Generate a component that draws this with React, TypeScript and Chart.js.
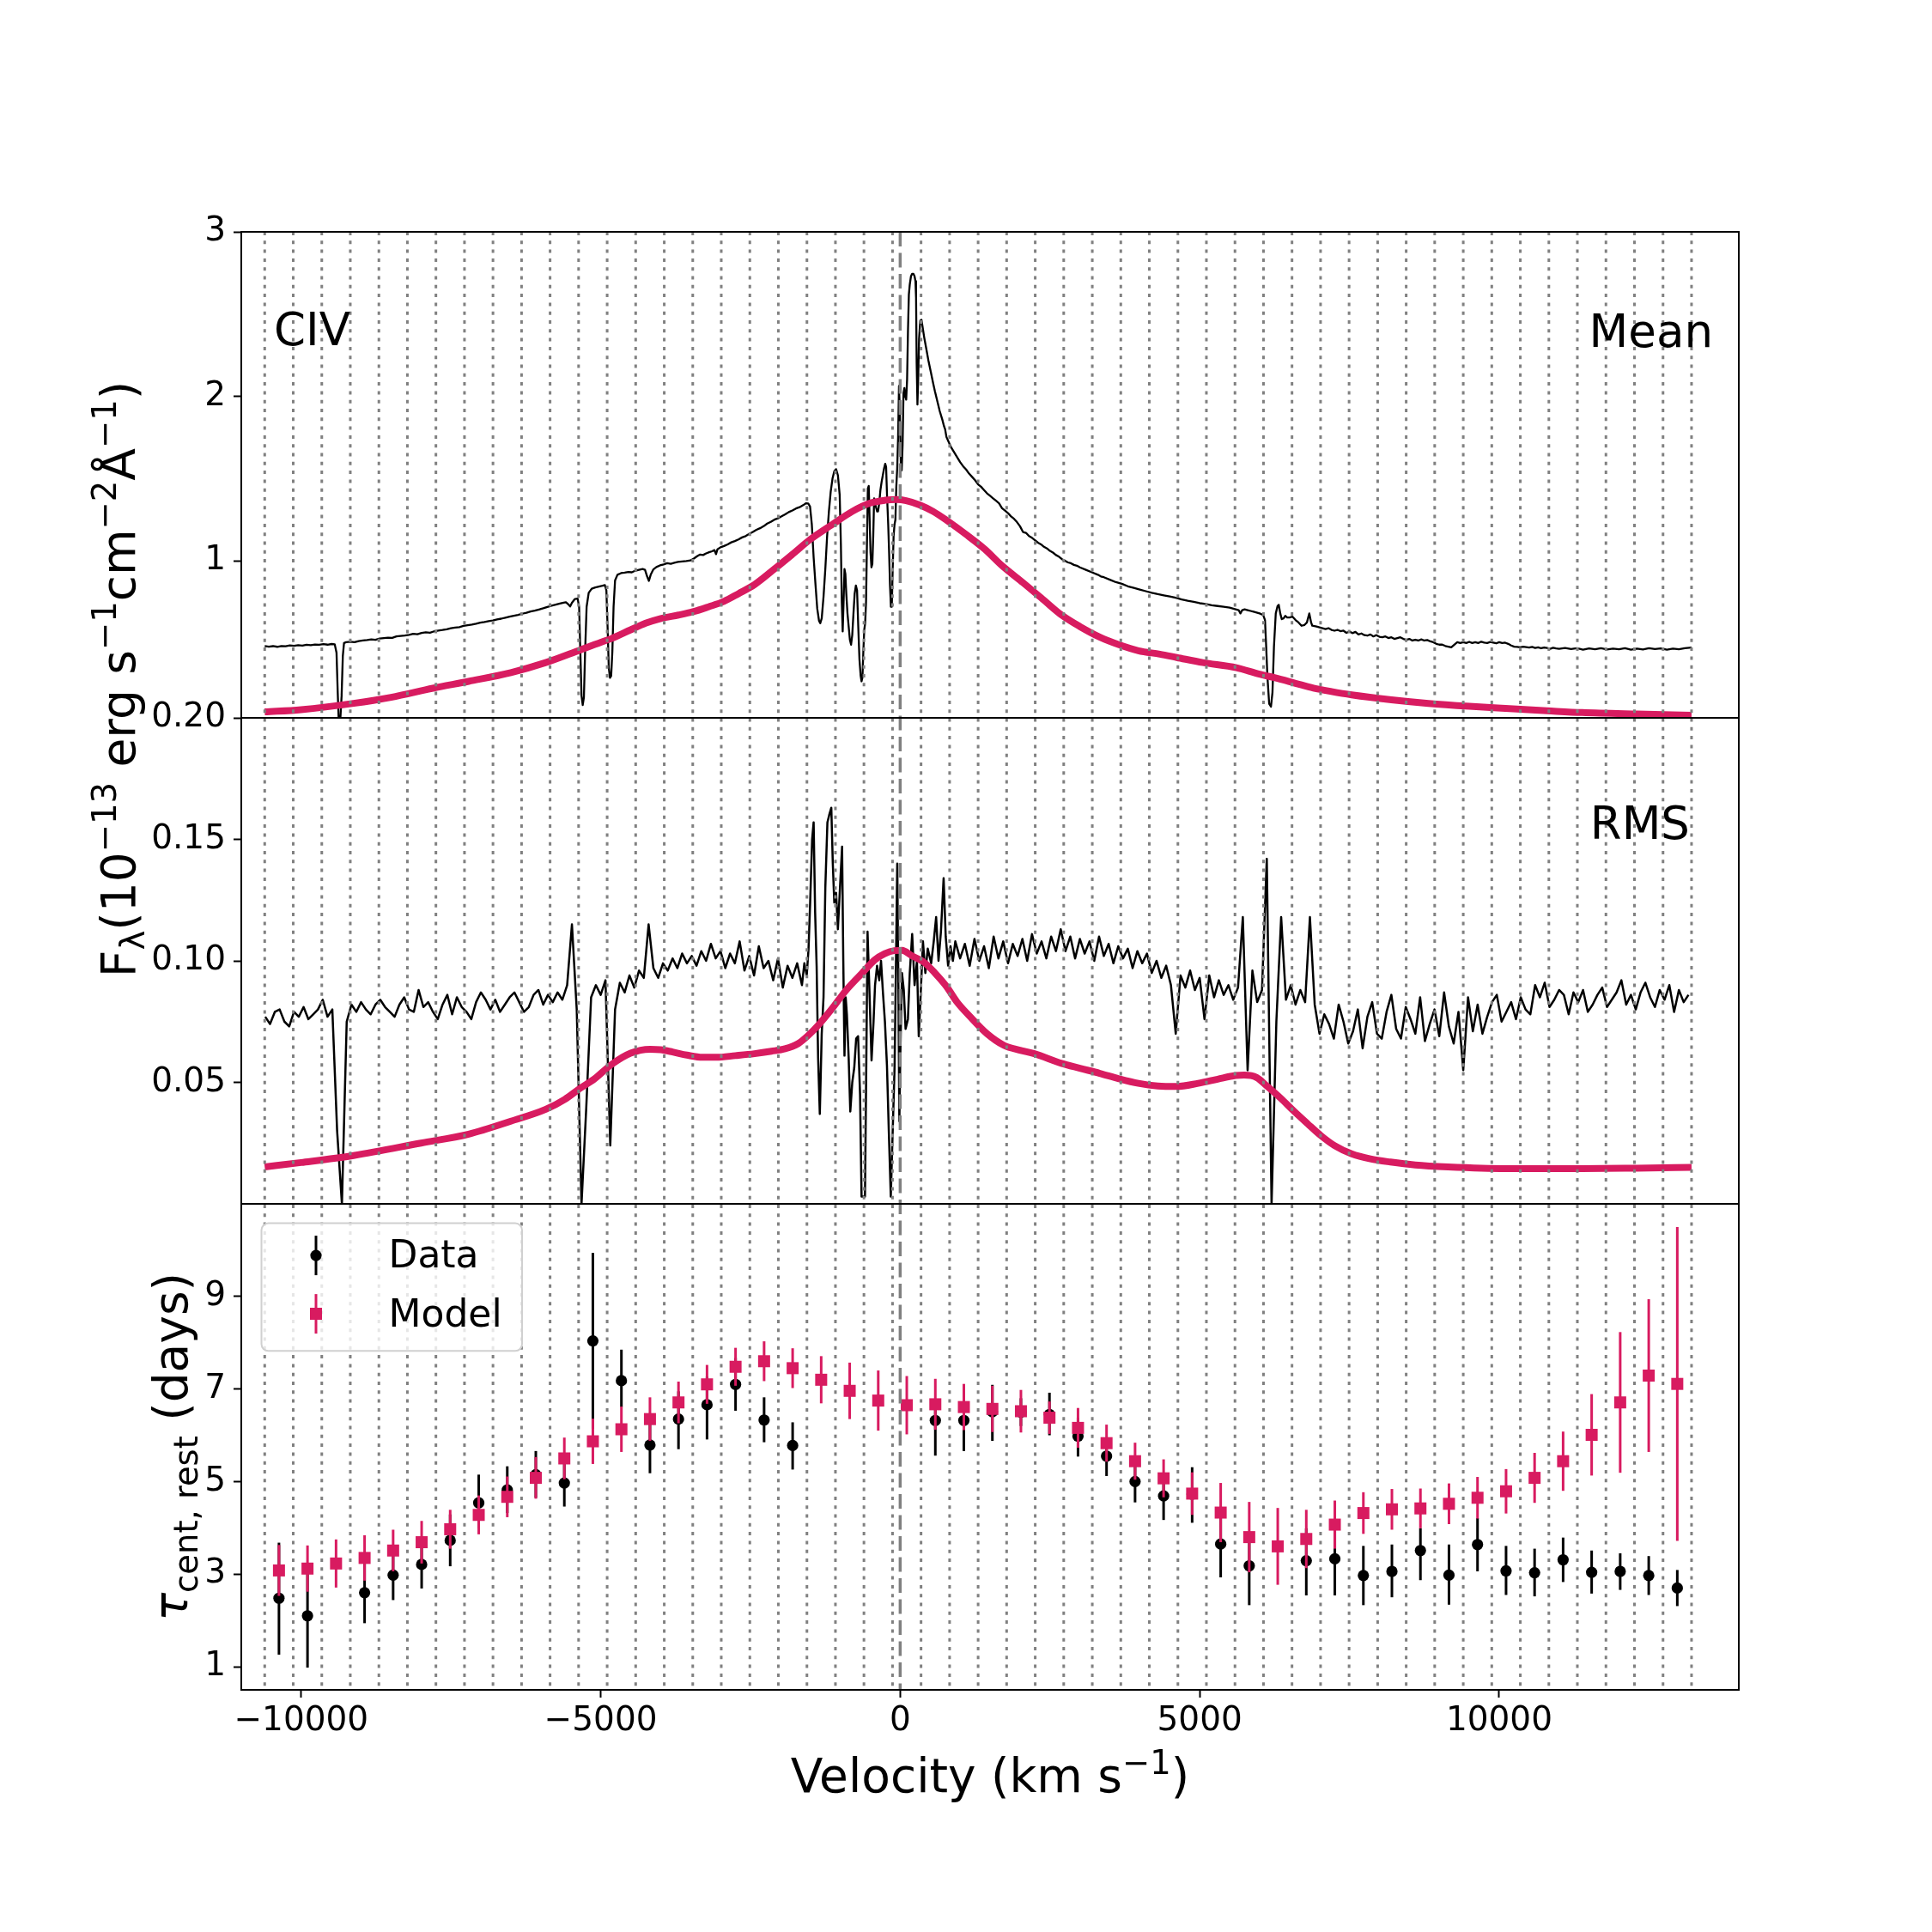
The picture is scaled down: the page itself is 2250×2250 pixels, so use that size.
import React, { useEffect, useRef } from "react";
import { Chart, registerables } from "chart.js";

Chart.register(...registerables);

const FONT = "'DejaVu Sans', 'Liberation Sans', sans-serif";
const PINK = "#D81B60";
const GRAY = "#808080";

// ---------- axis ticks ----------
const xTickValues = [-10000, -5000, 0, 5000, 10000];
const meanTickValues = [1, 2, 3];
const rmsTickValues = [0.05, 0.1, 0.15, 0.2];
const tauTickValues = [1, 3, 5, 7, 9];

// ---------- velocity bins (km/s) ----------
const binEdges = [
  -10609, -10133, -9656, -9180, -8703, -8227, -7751, -7274, -6798, -6321, -5845, -5369, -4892,
  -4416, -3939, -3463, -2987, -2510, -2034, -1557, -1081, -605, -128, 348, 825, 1301, 1777,
  2254, 2730, 3207, 3683, 4159, 4636, 5112, 5589, 6065, 6541, 7018, 7494, 7971, 8447, 8923,
  9400, 9876, 10353, 10829, 11305, 11782, 12258, 12735, 13211,
];

// ---------- lag per bin (days) ----------
const tauData = [
  2.48, 2.10, null, 2.60, 2.98, 3.21, 3.73, 4.54, 4.82, 5.15, 4.97, 8.04, 7.18, 5.79, 6.35,
  6.66, 7.10, 6.33, 5.78, null, null, null, null, 6.32, 6.32, 6.51, 6.50, 6.45, 5.98, 5.55,
  5.00, 4.69, 4.73, 3.65, 3.18, null, 3.29, 3.33, 2.97, 3.06, 3.51, 2.98, 3.64, 3.07, 3.03,
  3.31, 3.04, 3.06, 2.97, 2.70,
];
const tauDataErrLo = [
  1.22, 1.12, null, 0.66, 0.54, 0.52, 0.56, 0.55, 0.50, 0.50, 0.51, 1.90, 0.57, 0.61, 0.65,
  0.75, 0.57, 0.48, 0.52, null, null, null, null, 0.76, 0.66, 0.63, 0.30, 0.45, 0.44, 0.43,
  0.45, 0.52, 0.62, 0.72, 0.85, null, 0.75, 0.79, 0.64, 0.56, 0.64, 0.64, 0.58, 0.52, 0.51,
  0.48, 0.46, 0.40, 0.42, 0.39,
];
const tauDataErrHi = [
  1.20, 1.12, null, 0.66, 0.54, 0.52, 0.56, 0.61, 0.51, 0.51, 0.57, 1.90, 0.67, 0.66, 0.60,
  0.61, 0.57, 0.49, 0.50, null, null, null, null, 0.46, 0.50, 0.58, 0.30, 0.47, 0.40, 0.40,
  0.40, 0.50, 0.58, 0.70, 0.70, null, 0.70, 0.70, 0.64, 0.58, 0.48, 0.66, 0.57, 0.54, 0.52,
  0.48, 0.47, 0.39, 0.42, 0.39,
];
const tauModel = [
  3.08, 3.12, 3.23, 3.35, 3.51, 3.69, 3.97, 4.28, 4.67, 5.08, 5.50, 5.87, 6.13, 6.35, 6.71,
  7.10, 7.48, 7.60, 7.45, 7.20, 6.96, 6.75, 6.65, 6.67, 6.61, 6.57, 6.52, 6.38, 6.16, 5.83,
  5.44, 5.07, 4.74, 4.33, 3.80, 3.60, 3.76, 4.07, 4.32, 4.40, 4.42, 4.52, 4.65, 4.79, 5.08,
  5.44, 6.01, 6.71, 7.29, 7.11,
];
const tauModelErr = [
  0.55, 0.50, 0.52, 0.49, 0.45, 0.46, 0.42, 0.42, 0.44, 0.45, 0.45, 0.49, 0.49, 0.47, 0.45,
  0.42, 0.41, 0.43, 0.43, 0.51, 0.61, 0.65, 0.63, 0.55, 0.50, 0.50, 0.46, 0.35, 0.43, 0.40,
  0.40, 0.41, 0.46, 0.64, 0.76, 0.83, 0.63, 0.52, 0.45, 0.44, 0.43, 0.44, 0.45, 0.48, 0.54,
  0.64, 0.88, 1.52, 1.65, 3.39,
];

// ---------- mean spectrum [velocity, flux] ----------
const meanSpectrum: [number, number][] = [
  [-10609,0.482],[-10540,0.478],[-10470,0.481],[-10400,0.477],[-10330,0.482],[-10260,0.480],[-10190,0.485],
  [-10120,0.483],[-10050,0.487],[-9980,0.484],[-9910,0.489],[-9840,0.487],[-9770,0.491],[-9700,0.489],
  [-9630,0.493],[-9560,0.490],[-9490,0.494],[-9440,0.492],[-9410,0.44],[-9390,0.20],[-9375,0.045],
  [-9345,0.045],[-9325,0.18],[-9305,0.42],[-9285,0.50],[-9250,0.505],[-9180,0.508],[-9110,0.505],
  [-9040,0.512],[-8970,0.515],[-8900,0.518],[-8830,0.522],[-8760,0.519],[-8690,0.527],[-8620,0.530],
  [-8550,0.533],[-8480,0.531],[-8410,0.540],[-8340,0.543],[-8270,0.546],[-8200,0.550],[-8130,0.556],
  [-8060,0.553],[-7990,0.561],[-7920,0.565],[-7850,0.563],[-7780,0.571],[-7710,0.576],[-7640,0.579],
  [-7570,0.584],[-7500,0.590],[-7430,0.594],[-7360,0.597],[-7290,0.604],[-7220,0.608],[-7150,0.612],
  [-7080,0.617],[-7010,0.624],[-6940,0.628],[-6870,0.633],[-6800,0.637],[-6730,0.644],[-6660,0.648],
  [-6590,0.654],[-6520,0.660],[-6450,0.666],[-6380,0.671],[-6310,0.678],[-6240,0.684],[-6170,0.692],
  [-6100,0.697],[-6030,0.704],[-5960,0.711],[-5890,0.719],[-5820,0.727],[-5750,0.733],[-5680,0.740],
  [-5620,0.745],[-5580,0.748],[-5540,0.735],[-5510,0.722],[-5480,0.745],[-5430,0.768],[-5385,0.770],
  [-5360,0.72],[-5340,0.45],[-5320,0.18],[-5300,0.123],[-5280,0.17],[-5260,0.45],[-5235,0.72],
  [-5200,0.805],[-5150,0.830],[-5090,0.838],[-5030,0.843],[-4970,0.848],[-4930,0.852],[-4905,0.82],
  [-4885,0.60],[-4865,0.35],[-4845,0.288],[-4825,0.30],[-4805,0.45],[-4785,0.72],[-4760,0.88],
  [-4720,0.915],[-4660,0.925],[-4600,0.928],[-4540,0.932],[-4480,0.930],[-4420,0.940],[-4360,0.945],
  [-4300,0.950],[-4260,0.945],[-4225,0.905],[-4195,0.878],[-4165,0.915],[-4120,0.948],[-4070,0.962],
  [-4010,0.972],[-3950,0.978],[-3890,0.985],[-3830,0.982],[-3770,0.988],[-3710,0.993],[-3640,0.996],
  [-3570,0.998],[-3500,1.002],[-3440,1.015],[-3390,1.028],[-3340,1.038],[-3290,1.035],[-3240,1.045],
  [-3190,1.052],[-3140,1.058],[-3100,1.065],[-3075,1.04],[-3050,1.07],[-3000,1.082],[-2940,1.090],
  [-2880,1.100],[-2820,1.112],[-2760,1.120],[-2700,1.130],[-2640,1.142],[-2580,1.150],[-2520,1.163],
  [-2460,1.175],[-2400,1.188],[-2340,1.198],[-2280,1.210],[-2220,1.226],[-2160,1.237],[-2100,1.250],
  [-2040,1.258],[-1980,1.270],[-1920,1.282],[-1860,1.296],[-1800,1.306],[-1740,1.318],[-1680,1.326],
  [-1620,1.338],[-1570,1.350],[-1535,1.348],[-1505,1.33],[-1475,1.22],[-1445,1.02],[-1415,0.86],
  [-1385,0.71],[-1355,0.635],[-1335,0.62],[-1310,0.65],[-1280,0.78],[-1250,0.95],[-1220,1.15],
  [-1190,1.30],[-1160,1.42],[-1130,1.50],[-1100,1.545],[-1070,1.557],[-1040,1.52],[-1010,1.40],
  [-990,1.10],[-975,0.75],[-960,0.57],[-945,0.75],[-930,0.95],[-915,0.92],[-900,0.80],[-880,0.68],
  [-860,0.60],[-840,0.52],[-820,0.49],[-800,0.55],[-780,0.68],[-760,0.80],[-740,0.85],[-720,0.82],
  [-700,0.60],[-680,0.40],[-660,0.30],[-645,0.267],[-630,0.29],[-615,0.45],[-600,0.58],[-585,0.62],
  [-570,0.75],[-555,1.10],[-540,1.44],[-525,1.455],[-510,1.25],[-495,1.05],[-480,0.96],[-465,0.98],
  [-450,1.15],[-435,1.38],[-420,1.35],[-400,1.32],[-385,1.30],[-370,1.30],[-350,1.35],[-330,1.43],
  [-310,1.48],[-290,1.52],[-270,1.56],[-250,1.59],[-235,1.57],[-220,1.40],[-200,1.22],[-185,1.05],
  [-170,0.85],[-155,0.72],[-140,0.72],[-125,0.95],[-110,1.15],[-95,1.22],[-80,1.25],[-65,1.45],
  [-50,1.56],[-35,1.75],[-20,2.063],[-5,1.90],[10,1.60],[25,1.55],[40,1.70],[55,2.02],[70,2.05],
  [85,2.00],[100,1.98],[115,2.10],[130,2.40],[145,2.62],[160,2.68],[180,2.73],[200,2.745],[220,2.745],
  [240,2.73],[255,2.70],[265,2.60],[275,2.20],[288,1.95],[300,2.10],[315,2.35],[335,2.46],[355,2.465],
  [375,2.42],[400,2.36],[430,2.30],[470,2.22],[510,2.15],[550,2.08],[580,2.03],[620,1.97],[660,1.91],
  [705,1.856],[730,1.82],[750,1.80],[772,1.753],[800,1.73],[850,1.69],[900,1.66],[950,1.63],[1000,1.60],
  [1050,1.575],[1100,1.555],[1150,1.53],[1200,1.51],[1250,1.49],[1300,1.465],[1350,1.45],[1400,1.43],
  [1450,1.41],[1500,1.395],[1550,1.38],[1600,1.365],[1650,1.35],[1700,1.32],[1750,1.305],[1800,1.29],
  [1850,1.27],[1900,1.255],[1950,1.235],[2000,1.21],[2050,1.175],[2100,1.17],[2150,1.15],[2200,1.14],
  [2250,1.125],[2300,1.11],[2350,1.10],[2400,1.085],[2450,1.075],[2500,1.06],[2550,1.05],[2600,1.035],
  [2650,1.025],[2700,1.01],[2750,1.0],[2800,0.99],[2850,0.985],[2900,0.975],[2950,0.97],[3000,0.96],
  [3100,0.945],[3200,0.93],[3300,0.915],[3350,0.905],[3400,0.90],[3500,0.885],[3600,0.87],[3700,0.86],
  [3800,0.845],[3900,0.835],[4000,0.825],[4100,0.815],[4200,0.805],[4300,0.797],[4400,0.79],[4500,0.783],
  [4600,0.775],[4700,0.765],[4800,0.757],[4900,0.75],[5000,0.742],[5100,0.737],[5200,0.73],[5300,0.725],
  [5400,0.72],[5500,0.715],[5600,0.705],[5650,0.70],[5680,0.68],[5710,0.70],[5750,0.705],[5800,0.70],
  [5850,0.695],[5900,0.69],[5950,0.685],[6000,0.68],[6060,0.67],[6090,0.64],[6110,0.48],[6130,0.30],
  [6160,0.13],[6190,0.113],[6215,0.20],[6240,0.48],[6270,0.68],[6300,0.725],[6320,0.732],[6345,0.68],
  [6370,0.645],[6400,0.65],[6430,0.665],[6460,0.655],[6500,0.655],[6550,0.66],[6600,0.64],[6650,0.625],
  [6700,0.605],[6750,0.61],[6790,0.625],[6830,0.68],[6860,0.625],[6880,0.605],[6950,0.60],[7000,0.595],
  [7050,0.59],[7100,0.585],[7150,0.59],[7200,0.58],[7250,0.575],[7300,0.58],[7350,0.572],[7400,0.575],
  [7450,0.562],[7500,0.57],[7550,0.56],[7600,0.568],[7650,0.552],[7700,0.558],[7750,0.548],[7800,0.545],
  [7850,0.552],[7900,0.54],[7950,0.548],[8000,0.538],[8050,0.535],[8100,0.54],[8150,0.53],[8200,0.535],
  [8250,0.525],[8300,0.53],[8350,0.535],[8400,0.525],[8450,0.52],[8500,0.525],[8550,0.515],[8600,0.52],
  [8650,0.515],[8700,0.522],[8750,0.515],[8800,0.518],[8850,0.51],[8900,0.505],[8950,0.495],[9000,0.49],
  [9050,0.49],[9100,0.482],[9150,0.478],[9200,0.474],[9250,0.49],[9300,0.505],[9350,0.50],[9400,0.505],
  [9450,0.50],[9500,0.507],[9550,0.50],[9600,0.505],[9650,0.50],[9700,0.508],[9750,0.502],[9800,0.50],
  [9850,0.506],[9900,0.502],[9950,0.498],[10000,0.505],[10050,0.50],[10100,0.502],[10150,0.495],
  [10200,0.485],[10250,0.478],[10300,0.476],[10350,0.474],[10400,0.478],[10450,0.475],[10500,0.472],
  [10550,0.476],[10600,0.47],[10650,0.474],[10700,0.468],[10750,0.473],[10800,0.47],[10850,0.465],
  [10900,0.471],[10950,0.467],[11000,0.465],[11100,0.47],[11200,0.463],[11300,0.468],[11400,0.46],
  [11500,0.467],[11600,0.462],[11700,0.468],[11800,0.461],[11900,0.466],[12000,0.462],[12100,0.469],
  [12200,0.46],[12300,0.466],[12400,0.461],[12500,0.468],[12600,0.463],[12700,0.467],[12800,0.46],
  [12900,0.466],[13000,0.462],[13100,0.468],[13211,0.472],
];

// ---------- mean model [velocity, flux] ----------
const meanModel: [number, number][] = [
  [-10609,0.081],[-10000,0.095],[-9126,0.133],[-8500,0.17],[-7800,0.225],[-7204,0.267],[-6500,0.32],
  [-5917,0.381],[-5400,0.45],[-4996,0.505],[-4828,0.526],[-4500,0.58],[-4250,0.62],[-3997,0.649],
  [-3700,0.67],[-3460,0.69],[-3200,0.72],[-2943,0.753],[-2700,0.80],[-2432,0.855],[-2100,0.95],
  [-1794,1.041],[-1500,1.13],[-1148,1.217],[-800,1.30],[-509,1.35],[-250,1.368],[-60,1.372],[100,1.365],
  [323,1.34],[550,1.30],[772,1.247],[1100,1.16],[1407,1.072],[1700,0.97],[2053,0.866],[2400,0.76],
  [2695,0.67],[3000,0.60],[3336,0.535],[3650,0.49],[3977,0.453],[4335,0.432],[4617,0.412],[5053,0.381],
  [5613,0.35],[6000,0.31],[6260,0.288],[6600,0.255],[6899,0.226],[7200,0.205],[7537,0.185],[8200,0.155],
  [8820,0.133],[9500,0.115],[10106,0.102],[10800,0.088],[11384,0.077],[12300,0.068],[13211,0.061],
];

// ---------- RMS spectrum ----------
// blue wing sampled from -10600 km/s in 80 km/s steps
const rmsBlueStart = -10600;
const rmsStep = 80;
const rmsBlueFlux = [
  0.077, 0.074, 0.079, 0.080, 0.075, 0.073, 0.079, 0.077, 0.081, 0.076,
  0.078, 0.080, 0.084, 0.077, 0.080, 0.030, 0.0, 0.075, 0.082, 0.079,
  0.083, 0.080, 0.078, 0.082, 0.084, 0.081, 0.079, 0.077, 0.082, 0.085,
  0.080, 0.079, 0.088, 0.081, 0.083, 0.079, 0.076, 0.082, 0.086, 0.078,
  0.085, 0.081, 0.079, 0.076, 0.083, 0.087, 0.084, 0.080, 0.084, 0.079,
  0.082, 0.085, 0.087, 0.083, 0.079, 0.081, 0.086, 0.088, 0.082, 0.086,
  0.083, 0.087, 0.084, 0.090, 0.115, 0.080, 0.0, 0.040, 0.085, 0.090,
  0.086, 0.092, 0.024, 0.080, 0.091, 0.087, 0.094, 0.089, 0.096, 0.093,
  0.115, 0.097, 0.093, 0.099, 0.096, 0.101, 0.097, 0.103, 0.099, 0.102,
  0.098, 0.104, 0.100, 0.107, 0.101, 0.104, 0.097, 0.103, 0.099, 0.108,
  0.096, 0.102, 0.094, 0.106, 0.097, 0.100, 0.092, 0.101, 0.089, 0.098,
  0.093, 0.099, 0.090,
];
// line core [velocity, flux]
const rmsCore: [number, number][] = [
  [-1600,0.099],[-1560,0.094],[-1530,0.105],[-1503,0.124],[-1470,0.150],[-1445,0.157],[-1420,0.120],
  [-1395,0.098],[-1370,0.060],[-1342,0.037],[-1310,0.070],[-1280,0.085],[-1250,0.130],[-1215,0.157],
  [-1185,0.160],[-1150,0.163],[-1125,0.140],[-1100,0.124],[-1070,0.128],[-1040,0.113],[-1005,0.130],
  [-970,0.147],[-950,0.100],[-930,0.061],[-910,0.085],[-890,0.078],[-860,0.060],[-833,0.038],
  [-800,0.050],[-767,0.056],[-735,0.068],[-703,0.069],[-670,0.045],[-645,0.003],[-610,0.003],
  [-588,0.003],[-565,0.060],[-545,0.112],[-510,0.085],[-478,0.059],[-445,0.075],[-420,0.090],
  [-386,0.098],[-350,0.092],[-320,0.100],[-288,0.087],[-255,0.075],[-221,0.057],[-190,0.030],
  [-157,0.003],[-125,0.030],[-93,0.057],[-70,0.100],[-49,0.140],[-30,0.090],[-14,0.034],[5,0.065],
  [30,0.095],[60,0.088],[90,0.072],[129,0.076],[160,0.095],[200,0.111],[240,0.090],[280,0.100],
  [310,0.069],[340,0.085],[380,0.108],[420,0.095],[460,0.105],[517,0.099],[560,0.108],[600,0.118],
  [640,0.100],[680,0.112],[725,0.134],[760,0.110],[800,0.098],[840,0.106],[880,0.100],
];
// red wing sampled from 920 km/s in 80 km/s steps
const rmsRedStart = 920;
const rmsRedFlux = [
  0.108, 0.101, 0.107, 0.098, 0.109, 0.100, 0.106, 0.097, 0.110, 0.101,
  0.108, 0.099, 0.107, 0.102, 0.109, 0.100, 0.111, 0.103, 0.108, 0.101,
  0.110, 0.104, 0.113, 0.104, 0.110, 0.101, 0.109, 0.103, 0.108, 0.100,
  0.110, 0.102, 0.107, 0.099, 0.106, 0.101, 0.105, 0.097, 0.104, 0.099,
  0.103, 0.095, 0.100, 0.093, 0.098, 0.090, 0.070, 0.094, 0.089, 0.096,
  0.088, 0.093, 0.076, 0.094, 0.085, 0.092, 0.086, 0.090, 0.084, 0.089,
  0.118, 0.055, 0.096, 0.083, 0.088, 0.142, 0.0, 0.075, 0.118, 0.084,
  0.090, 0.082, 0.088, 0.083, 0.118, 0.082, 0.070, 0.078, 0.074, 0.068,
  0.082, 0.075, 0.066, 0.071, 0.080, 0.064, 0.077, 0.083, 0.070, 0.068,
  0.079, 0.086, 0.072, 0.068, 0.081, 0.076, 0.070, 0.085, 0.067, 0.074,
  0.080, 0.069, 0.087, 0.073, 0.066, 0.079, 0.055, 0.085, 0.071, 0.082,
  0.070, 0.077, 0.083, 0.086, 0.075, 0.079, 0.083, 0.076, 0.085, 0.080,
  0.078, 0.090, 0.085, 0.091, 0.081, 0.084, 0.088, 0.086, 0.078, 0.087,
  0.083, 0.088, 0.079, 0.082, 0.086, 0.089, 0.081, 0.084, 0.087, 0.092,
  0.082, 0.086, 0.080, 0.087, 0.091, 0.085, 0.081, 0.088, 0.084, 0.090,
  0.079, 0.088, 0.083, 0.086,
];

// ---------- RMS model [velocity, flux] ----------
const rmsModel: [number, number][] = [
  [-10609,0.0152],[-10000,0.017],[-9126,0.0199],[-8000,0.025],[-7204,0.0287],[-6500,0.034],
  [-5917,0.0389],[-5600,0.043],[-5340,0.0476],[-5100,0.0515],[-4828,0.0572],[-4500,0.0620],
  [-4176,0.0636],[-4000,0.0634],[-3800,0.0625],[-3560,0.0612],[-3300,0.0603],[-3072,0.0603],
  [-2750,0.061],[-2432,0.0618],[-2150,0.0628],[-1923,0.0638],[-1700,0.066],[-1536,0.0693],
  [-1350,0.074],[-1148,0.080],[-900,0.088],[-638,0.0949],[-420,0.1005],[-258,0.103],[-100,0.1042],
  [30,0.1043],[200,0.102],[388,0.0996],[580,0.095],[772,0.0895],[950,0.083],[1157,0.0773],
  [1450,0.070],[1734,0.0652],[2000,0.0632],[2240,0.0618],[2692,0.0578],[3000,0.0558],[3333,0.0537],
  [3650,0.0515],[3976,0.0496],[4300,0.0485],[4617,0.0483],[4976,0.0496],[5300,0.0513],[5600,0.0528],
  [5742,0.053],[5950,0.052],[6130,0.0483],[6350,0.0435],[6575,0.0381],[6800,0.033],[7027,0.028],
  [7250,0.024],[7537,0.0206],[7850,0.0185],[8183,0.0172],[8600,0.016],[9144,0.0152],[10106,0.0145],
  [11384,0.0145],[12300,0.0147],[13211,0.015],
];

// ---------- helpers ----------
const pairs = (arr: [number, number][]) => arr.map(([x, y]) => ({ x, y }));
const minusFmt = (v: number) => (v < 0 ? "\u2212" + Math.abs(v) : String(v));

type Seg = { t: string; scale?: number; dy?: number; italic?: boolean };
function drawRich(ctx: CanvasRenderingContext2D, segs: Seg[], x: number, y: number, size: number, align: string) {
  const fontOf = (s: Seg) => `${s.italic ? "italic " : ""}${size * (s.scale || 1)}px ${FONT}`;
  const widths = segs.map((s) => {
    ctx.font = fontOf(s);
    return ctx.measureText(s.t).width;
  });
  const total = widths.reduce((a, b) => a + b, 0);
  let cx = align === "center" ? x - total / 2 : align === "right" ? x - total : x;
  ctx.textAlign = "left";
  ctx.textBaseline = "alphabetic";
  segs.forEach((s, i) => {
    ctx.font = fontOf(s);
    ctx.fillText(s.t, cx, y + (s.dy || 0) * size);
    cx += widths[i];
  });
}

const decorPlugin = {
  id: "decor",
  beforeDatasetDraw(chart: any, args: any) {
    const ds = chart.data.datasets[args.index];
    if (!ds.errLo) return;
    const ctx = chart.ctx;
    const xs = chart.scales.x;
    const ys = chart.scales[ds.yAxisID];
    ctx.save();
    ctx.strokeStyle = ds.errColor;
    ctx.lineWidth = 3;
    ds.data.forEach((p: any, i: number) => {
      const px = xs.getPixelForValue(p.x);
      ctx.beginPath();
      ctx.moveTo(px, ys.getPixelForValue(p.y - ds.errLo[i]));
      ctx.lineTo(px, ys.getPixelForValue(p.y + ds.errHi[i]));
      ctx.stroke();
    });
    ctx.restore();
  },
  afterDatasetsDraw(chart: any) {
    const ctx = chart.ctx;
    const a = chart.chartArea;
    const xs = chart.scales.x;
    ctx.save();
    // bin edges
    ctx.strokeStyle = GRAY;
    ctx.lineWidth = 3;
    ctx.setLineDash([4, 6.3]);
    binEdges.forEach((e) => {
      const px = xs.getPixelForValue(e);
      ctx.beginPath();
      ctx.moveTo(px, a.top);
      ctx.lineTo(px, a.bottom);
      ctx.stroke();
    });
    // zero velocity
    ctx.lineWidth = 3.5;
    ctx.setLineDash([17, 7.5]);
    const p0 = xs.getPixelForValue(0);
    ctx.beginPath();
    ctx.moveTo(p0, a.top);
    ctx.lineTo(p0, a.bottom);
    ctx.stroke();
    ctx.setLineDash([]);
    // frames
    ctx.strokeStyle = "#000";
    ctx.lineWidth = 2;
    ["yMean", "yRms", "yTau"].forEach((id) => {
      const s = chart.scales[id];
      ctx.strokeRect(a.left, s.top, a.right - a.left, s.bottom - s.top);
    });
    ctx.restore();
  },
  afterDraw(chart: any) {
    const ctx = chart.ctx;
    const a = chart.chartArea;
    const sM = chart.scales.yMean;
    const sR = chart.scales.yRms;
    const sT = chart.scales.yTau;
    ctx.save();
    ctx.fillStyle = "#000";
    // panel labels
    drawRich(ctx, [{ t: "CIV" }], a.left + 38, sM.top + 132, 53, "left");
    drawRich(ctx, [{ t: "Mean" }], a.right - 30, sM.top + 134, 53, "right");
    drawRich(ctx, [{ t: "RMS" }], a.right - 57, sR.top + 141, 53, "right");
    // x label
    drawRich(
      ctx,
      [{ t: "Velocity (km s" }, { t: "\u22121", scale: 0.7, dy: -0.38 }, { t: ")" }],
      (a.left + a.right) / 2,
      a.bottom + 119,
      55,
      "center"
    );
    // y label (flux) spanning top two panels
    ctx.save();
    ctx.translate(157, 791);
    ctx.rotate(-Math.PI / 2);
    drawRich(
      ctx,
      [
        { t: "F" },
        { t: "\u03bb", scale: 0.7, dy: 0.2 },
        { t: "(10" },
        { t: "\u221213", scale: 0.7, dy: -0.4 },
        { t: " erg s" },
        { t: "\u22121", scale: 0.7, dy: -0.4 },
        { t: "cm" },
        { t: "\u22122", scale: 0.7, dy: -0.4 },
        { t: "\u00c5" },
        { t: "\u22121", scale: 0.7, dy: -0.4 },
        { t: ")" },
      ],
      0,
      0,
      55,
      "center"
    );
    ctx.restore();
    // y label (lag)
    ctx.save();
    ctx.translate(218, (sT.top + sT.bottom) / 2);
    ctx.rotate(-Math.PI / 2);
    drawRich(
      ctx,
      [{ t: "\u03c4", italic: true }, { t: "cent, rest", scale: 0.7, dy: 0.22 }, { t: " (days)" }],
      0,
      0,
      55,
      "center"
    );
    ctx.restore();
    // legend
    const lx = a.left + 23.5;
    const ly = sT.top + 22.6;
    const lw = 303.5;
    const lh = 148.7;
    ctx.beginPath();
    ctx.roundRect(lx, ly, lw, lh, 8);
    ctx.fillStyle = "rgba(255,255,255,0.8)";
    ctx.fill();
    ctx.strokeStyle = "#d0d0d0";
    ctx.lineWidth = 2;
    ctx.stroke();
    const mx = lx + 63.5;
    // data entry
    ctx.strokeStyle = "#000";
    ctx.lineWidth = 3;
    ctx.beginPath();
    ctx.moveTo(mx, ly + 14.5);
    ctx.lineTo(mx, ly + 60.5);
    ctx.stroke();
    ctx.fillStyle = "#000";
    ctx.beginPath();
    ctx.arc(mx, ly + 37.5, 6.6, 0, Math.PI * 2);
    ctx.fill();
    // model entry
    ctx.strokeStyle = PINK;
    ctx.beginPath();
    ctx.moveTo(mx, ly + 82.5);
    ctx.lineTo(mx, ly + 128.5);
    ctx.stroke();
    ctx.fillStyle = PINK;
    ctx.fillRect(mx - 7, ly + 98.4, 14, 14);
    ctx.fillStyle = "#000";
    drawRich(ctx, [{ t: "Data" }], lx + 148, ly + 51.5, 44, "left");
    drawRich(ctx, [{ t: "Model" }], lx + 148, ly + 120.5, 44, "left");
    ctx.restore();
  },
};

function yScale(min: number, max: number, tickValues: number[], fmt: (v: number) => string) {
  return {
    type: "linear",
    position: "left",
    stack: "panels",
    stackWeight: 1,
    min,
    max,
    afterFit: (s: any) => {
      s.width = 281;
    },
    afterBuildTicks: (s: any) => {
      s.ticks = tickValues.map((v) => ({ value: v }));
    },
    ticks: {
      font: { family: FONT, size: 39 },
      color: "#000",
      padding: 9,
      autoSkip: false,
      callback: (v: number) => fmt(v),
    },
    grid: { drawOnChartArea: false, drawTicks: true, tickLength: 9, tickWidth: 2, tickColor: "#000" },
    border: { display: false },
  };
}

export default function App() {
  const ref = useRef<HTMLCanvasElement>(null);

  useEffect(() => {
    const centers = binEdges.slice(0, -1).map((e, i) => (e + binEdges[i + 1]) / 2);
    const dPts: any[] = [];
    const dLo: number[] = [];
    const dHi: number[] = [];
    tauData.forEach((v, i) => {
      if (v === null) return;
      dPts.push({ x: centers[i], y: v });
      dLo.push(tauDataErrLo[i] as number);
      dHi.push(tauDataErrHi[i] as number);
    });
    const mPts = tauModel.map((v, i) => ({ x: centers[i], y: v }));

    const rmsPts = [
      ...rmsBlueFlux.map((y, i) => ({ x: rmsBlueStart + i * rmsStep, y })),
      ...pairs(rmsCore),
      ...rmsRedFlux.map((y, i) => ({ x: rmsRedStart + i * rmsStep, y })),
    ];

    const lineBase = { showLine: true, pointRadius: 0, tension: 0, borderJoinStyle: "round" };

    const chart = new Chart(ref.current as HTMLCanvasElement, {
      type: "scatter",
      data: {
        datasets: [
          { ...lineBase, data: pairs(meanSpectrum), yAxisID: "yMean", borderColor: "#000", borderWidth: 2.3, order: 10 },
          { ...lineBase, data: pairs(meanModel), yAxisID: "yMean", borderColor: PINK, borderWidth: 8, cubicInterpolationMode: "monotone", order: 9 },
          { ...lineBase, data: rmsPts, yAxisID: "yRms", borderColor: "#000", borderWidth: 2.5, order: 10 },
          { ...lineBase, data: pairs(rmsModel), yAxisID: "yRms", borderColor: PINK, borderWidth: 8, cubicInterpolationMode: "monotone", order: 9 },
          {
            data: dPts, yAxisID: "yTau", showLine: false, pointStyle: "circle", pointRadius: 6.6,
            backgroundColor: "#000", borderWidth: 0, order: 8, errLo: dLo, errHi: dHi, errColor: "#000",
          },
          {
            data: mPts, yAxisID: "yTau", showLine: false, pointStyle: "rect", pointRadius: 9.9,
            backgroundColor: PINK, borderWidth: 0, order: 7, errLo: tauModelErr, errHi: tauModelErr, errColor: PINK,
          },
        ] as any,
      },
      options: {
        responsive: false,
        devicePixelRatio: 1,
        animation: false,
        events: [],
        layout: { padding: { left: 0, right: 225, top: 270, bottom: 0 }, autoPadding: false },
        plugins: { legend: { display: false }, tooltip: { enabled: false } },
        scales: {
          x: {
            type: "linear",
            position: "bottom",
            min: -11000,
            max: 14000,
            afterFit: (s: any) => {
              s.height = 282;
            },
            afterBuildTicks: (s: any) => {
              s.ticks = xTickValues.map((v) => ({ value: v }));
            },
            ticks: {
              font: { family: FONT, size: 39 },
              color: "#000",
              padding: 4,
              autoSkip: false,
              maxRotation: 0,
              callback: (v: number) => minusFmt(v),
            },
            grid: { drawOnChartArea: false, drawTicks: true, tickLength: 9, tickWidth: 2, tickColor: "#000" },
            border: { display: false },
          },
          yTau: yScale(0.5, 11, tauTickValues, (v) => String(v)),
          yRms: yScale(0, 0.2, rmsTickValues, (v) => v.toFixed(2)),
          yMean: yScale(0.045, 3, meanTickValues, (v) => String(v)),
        } as any,
      },
      plugins: [decorPlugin as any],
    });
    return () => chart.destroy();
  }, []);

  return (
    <div style={{ position: "absolute", left: 0, top: 0, width: 2250, height: 2250, background: "#fff" }}>
      <canvas ref={ref} width={2250} height={2250} style={{ width: 2250, height: 2250, display: "block" }} />
    </div>
  );
}
